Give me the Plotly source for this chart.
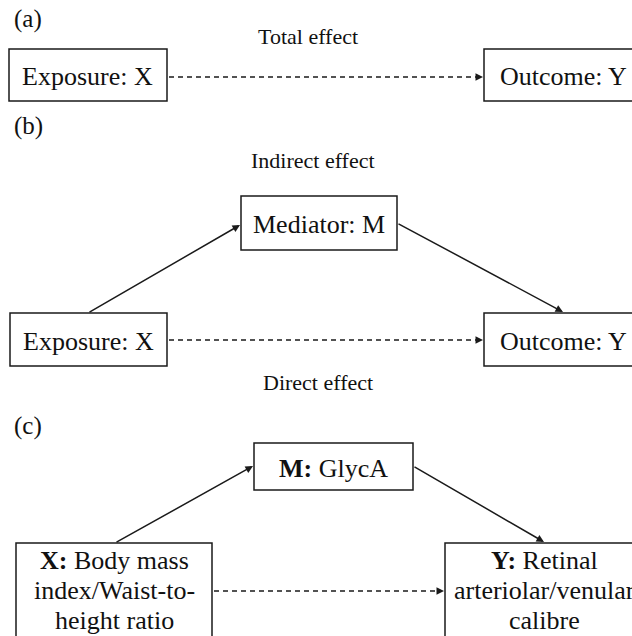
import plotly.graph_objects as go

# ---- content (texts) ----
panel_labels = ["(a)", "(b)", "(c)"]
effect_labels = ["Total effect", "Indirect effect", "Direct effect"]
box_texts = {
    "a_X": ["Exposure: X"],
    "a_Y": ["Outcome: Y"],
    "b_X": ["Exposure: X"],
    "b_M": ["Mediator: M"],
    "b_Y": ["Outcome: Y"],
    "c_M": ["<b>M:</b> GlycA"],
    "c_X": ["<b>X:</b> Body mass", "index/Waist-to-", "height ratio"],
    "c_Y": ["<b>Y:</b> Retinal", "arteriolar/venular", "calibre"],
}

# ---- layout geometry (pixel space of the 632x636 window) ----
W, H = 632, 636
boxes = {
    "a_X": (9, 167, 49, 101),
    "a_Y": (484, 642, 49, 101),
    "b_X": (10, 167, 313, 366),
    "b_M": (241, 397, 196, 250),
    "b_Y": (484, 642, 313, 366),
    "c_M": (254, 413, 443, 490),
    "c_X": (16, 212, 543, 680),
    "c_Y": (445, 643, 543, 680),
}
text_pos = {
    "a_X": (87, [76]),
    "a_Y": (563, [76]),
    "b_X": (88, [341]),
    "b_M": (319, [224]),
    "b_Y": (563, [341]),
    "c_M": (333, [468]),
    "c_X": (114, [560, 590, 620]),
    "c_Y": (544, [560, 590, 620]),
}
panel_pos = [(12, 19), (12, 126), (12, 426)]
effect_pos = [(308, 36), (313, 160), (318, 382)]
dashed = [((167, 77), (483, 77)), ((167, 340), (483, 340)), ((212, 591), (444, 591))]
solid = [((88, 313), (240, 225)), ((397, 223), (563, 312)),
         ((115, 543), (253, 466)), ((413, 466), (544, 542))]

FONT = "Liberation Serif, Times New Roman, serif"
INK = "#1a1a1a"

fig = go.Figure()
fig.add_trace(go.Scatter(x=[0, W], y=[0, H], mode="markers",
                         marker=dict(opacity=0), hoverinfo="skip", showlegend=False))

shapes = []
annotations = []

for key, (x0, x1, y0, y1) in boxes.items():
    shapes.append(dict(type="rect", x0=x0, x1=x1, y0=y0, y1=y1,
                       line=dict(color=INK, width=1.5), fillcolor="white", layer="below"))
    cx, ys = text_pos[key]
    for line, yy in zip(box_texts[key], ys):
        annotations.append(dict(x=cx, y=yy, text=line, showarrow=False,
                                xanchor="center", yanchor="middle",
                                font=dict(family=FONT, size=26, color="#111111")))

for lab, (x, y) in zip(panel_labels, panel_pos):
    annotations.append(dict(x=x, y=y, text=lab, showarrow=False, xanchor="left",
                            yanchor="middle", font=dict(family=FONT, size=25, color="#111111")))

for lab, (x, y) in zip(effect_labels, effect_pos):
    annotations.append(dict(x=x, y=y, text=lab, showarrow=False, xanchor="center",
                            yanchor="middle", font=dict(family=FONT, size=22, color="#111111")))

for (sx, sy), (ex, ey) in dashed:
    shapes.append(dict(type="line", x0=sx + 2, y0=sy, x1=ex - 5, y1=ey,
                       line=dict(color=INK, width=1.5, dash="5px,4px")))
    annotations.append(dict(x=ex, y=ey, ax=ex - 6, ay=ey, axref="x", ayref="y",
                            xref="x", yref="y", text="", showarrow=True,
                            arrowhead=2, arrowsize=1, arrowwidth=1.5, arrowcolor=INK))

for (sx, sy), (ex, ey) in solid:
    annotations.append(dict(x=ex, y=ey, ax=sx, ay=sy, axref="x", ayref="y",
                            xref="x", yref="y", text="", showarrow=True,
                            arrowhead=2, arrowsize=1, arrowwidth=1.5, arrowcolor=INK))

fig.update_layout(
    width=W, height=H,
    margin=dict(l=0, r=0, t=0, b=0),
    paper_bgcolor="white", plot_bgcolor="white",
    xaxis=dict(range=[0, W], visible=False, fixedrange=True),
    yaxis=dict(range=[H, 0], visible=False, fixedrange=True),
    shapes=shapes, annotations=annotations, showlegend=False,
    hovermode=False,
)

fig.write_html(
    "out.html",
    config={"displayModeBar": False, "staticPlot": True},
    post_script="document.body.style.margin='0';document.body.style.overflow='hidden';",
)
